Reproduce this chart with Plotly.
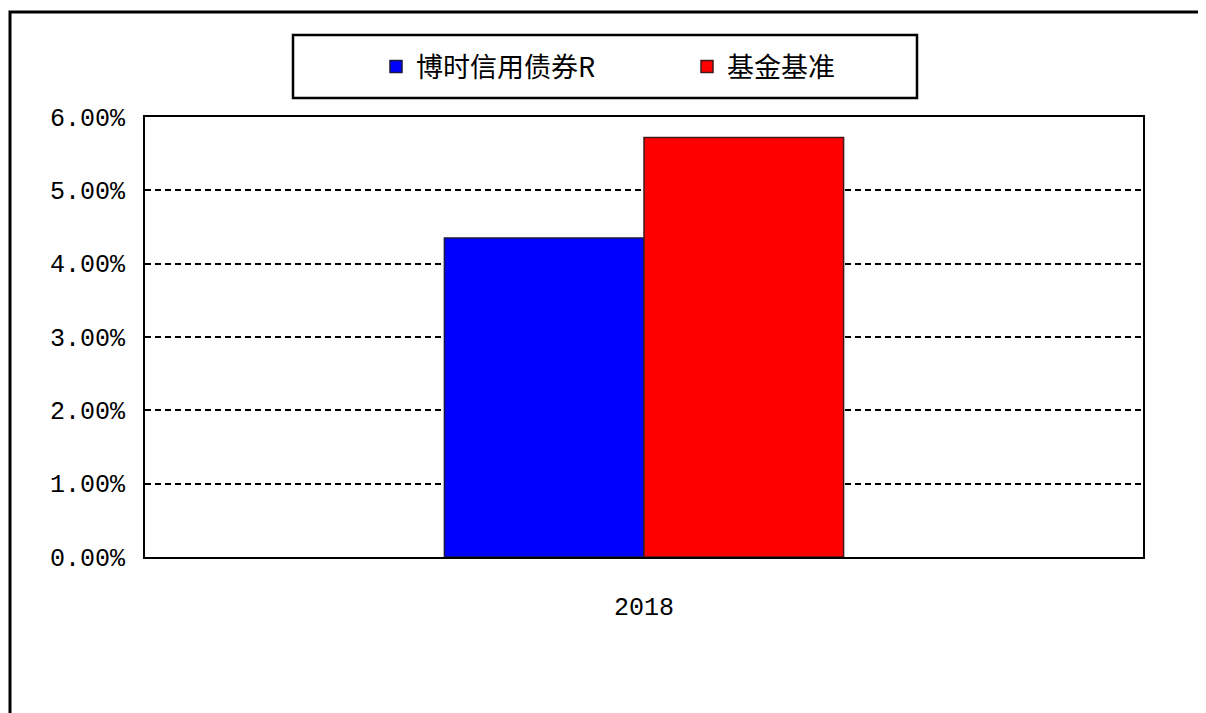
import plotly.graph_objects as go

categories = ["2018"]
fund_name = "博时信用债券R"
bench_name = "基金基准"
fund_values = [4.35]
bench_values = [5.72]
y_ticks = [0, 1, 2, 3, 4, 5, 6]
y_tick_labels = ["0.00%", "1.00%", "2.00%", "3.00%", "4.00%", "5.00%", "6.00%"]

W, H = 1206, 713
OFF = 8  # page body margin
L, R, T, B = 145, 1143, 117, 557  # plot area in reference pixels

def px(x):
    return (x - L) / (R - L)

def py(y):
    return (B - y) / (B - T)

fig = go.Figure()
fig.add_trace(go.Bar(name=fund_name, x=categories, y=fund_values,
                     marker=dict(color="#0000FF", line=dict(color="#1a1a40", width=1.5))))
fig.add_trace(go.Bar(name=bench_name, x=categories, y=bench_values,
                     marker=dict(color="#FF0000", line=dict(color="#401a1a", width=1.5))))

mono = "Liberation Mono"
fig.update_layout(
    width=W, height=H,
    margin=dict(l=L - OFF, r=W - R + OFF, t=T - OFF, b=H - B + OFF),
    paper_bgcolor="white", plot_bgcolor="white",
    barmode="group", bargap=0.6, bargroupgap=0,
    showlegend=True,
    legend=dict(orientation="h", x=px(376), xanchor="left", y=py(67), yanchor="middle",
                font=dict(family="Noto Sans CJK SC", size=27, color="black"),
                bgcolor="rgba(0,0,0,0)", entrywidth=266, itemwidth=30),
    xaxis=dict(showgrid=False, showline=True, linecolor="black", linewidth=2, mirror=True,
               ticks="", tickfont=dict(family=mono, size=25, color="black"),
               ticklabelstandoff=26),
    yaxis=dict(range=[0, 6], tickvals=y_ticks, ticktext=y_tick_labels,
               showgrid=True, gridcolor="black", gridwidth=2, griddash="6px,4px",
               showline=True, linecolor="black", linewidth=2, mirror=True,
               zeroline=False, ticks="", tickfont=dict(family=mono, size=25, color="black"),
               ticklabelstandoff=13),
    shapes=[
        dict(type="rect", xref="paper", yref="paper", x0=px(10), x1=px(1225), y0=py(12), y1=py(735),
             line=dict(color="black", width=3), fillcolor="rgba(0,0,0,0)", layer="below"),
        dict(type="rect", xref="paper", yref="paper", x0=px(293), x1=px(917), y0=py(35), y1=py(98),
             line=dict(color="black", width=2.5), fillcolor="rgba(0,0,0,0)"),
    ],
)

fig.write_html("out.html")
